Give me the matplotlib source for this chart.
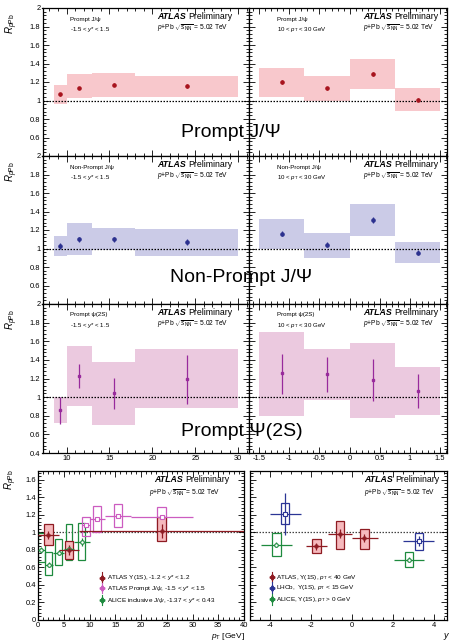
import matplotlib
matplotlib.use('Agg')
import matplotlib.pyplot as plt
from matplotlib.patches import Rectangle
from matplotlib.ticker import MultipleLocator, FuncFormatter

plt.rcParams['font.family'] = ['Liberation Sans', 'DejaVu Sans']
plt.rcParams['mathtext.fontset'] = 'custom'
plt.rcParams['mathtext.rm'] = 'Liberation Sans'
plt.rcParams['mathtext.it'] = 'Liberation Sans:italic'
plt.rcParams['mathtext.bf'] = 'Liberation Sans:bold'

# ---------------- data ----------------
pt_lo = [8.5, 10, 13, 18]
pt_hi = [10, 13, 18, 30]
pt_c = [9.25, 11.5, 15.5, 24.0]
y_lo = [-1.5, -0.75, 0.0, 0.75]
y_hi = [-0.75, 0.0, 0.75, 1.5]
y_c = [-1.12, -0.38, 0.39, 1.14]

# Prompt J/psi
pj_pt_val = [1.065, 1.135, 1.17, 1.16]
pj_pt_err = [0.015, 0.015, 0.015, 0.02]
pj_pt_slo = [0.96, 1.03, 1.035, 1.04]
pj_pt_shi = [1.17, 1.29, 1.30, 1.27]
pj_y_val = [1.20, 1.13, 1.29, 1.01]
pj_y_err = [0.02, 0.02, 0.02, 0.015]
pj_y_slo = [1.035, 1.0, 1.12, 0.885]
pj_y_shi = [1.35, 1.27, 1.45, 1.13]

# Non-prompt J/psi
np_pt_val = [1.03, 1.10, 1.10, 1.07]
np_pt_err = [0.03, 0.025, 0.025, 0.03]
np_pt_slo = [0.915, 0.93, 0.985, 0.915]
np_pt_shi = [1.14, 1.28, 1.225, 1.21]
np_y_val = [1.16, 1.04, 1.31, 0.955]
np_y_err = [0.03, 0.025, 0.03, 0.025]
np_y_slo = [1.0, 0.90, 1.13, 0.84]
np_y_shi = [1.32, 1.17, 1.48, 1.075]

# Prompt psi(2S)
ps_pt_val = [0.86, 1.225, 1.04, 1.195]
ps_pt_elo = [0.71, 1.10, 0.87, 0.93]
ps_pt_ehi = [1.00, 1.36, 1.21, 1.45]
ps_pt_slo = [0.72, 0.905, 0.705, 0.88]
ps_pt_shi = [1.00, 1.545, 1.38, 1.52]
ps_y_val = [1.255, 1.245, 1.18, 1.065]
ps_y_elo = [1.03, 1.05, 0.955, 0.88]
ps_y_ehi = [1.46, 1.43, 1.41, 1.25]
ps_y_slo = [0.80, 0.97, 0.78, 0.81]
ps_y_shi = [1.70, 1.52, 1.58, 1.32]

# bottom-left comparison vs pT
ups_pt = [2.0, 6.0, 24.0]
ups_pt_lo = [0, 4, 8]
ups_pt_hi = [4, 8, 40]
ups_pt_val = [0.97, 0.80, 1.02]
ups_pt_err = [0.05, 0.06, 0.08]
ups_pt_slo = [0.86, 0.70, 0.90]
ups_pt_shi = [1.09, 0.90, 1.17]

jp_pt = [9.25, 11.5, 15.5, 24.0]
jp_pt_lo = [8.5, 10, 13, 18]
jp_pt_hi = [10, 13, 18, 30]
jp_pt_val = [1.08, 1.15, 1.185, 1.175]
jp_pt_err = [0.02, 0.02, 0.02, 0.02]
jp_pt_slo = [0.955, 1.0, 1.06, 1.04]
jp_pt_shi = [1.18, 1.30, 1.32, 1.29]

al_pt = [0.65, 2.1, 4.0, 6.0, 8.5]
al_pt_lo = [0, 1.3, 3, 5, 7]
al_pt_hi = [1.3, 3, 5, 7, 10]
al_pt_val = [0.80, 0.63, 0.77, 0.81, 0.89]
al_pt_err = [0.03, 0.03, 0.03, 0.03, 0.04]
al_pt_slo = [0.66, 0.51, 0.63, 0.69, 0.68]
al_pt_shi = [0.99, 0.78, 0.92, 1.10, 1.11]

# bottom-right comparison vs y
at_y = [-1.75, -0.6, 0.6]
at_y_lo = [-2.25, -1.2, 0.0]
at_y_hi = [-1.25, 0.0, 1.25]
at_y_val = [0.84, 0.985, 0.935]
at_y_err = [0.04, 0.05, 0.05]
at_y_slo = [0.76, 0.81, 0.81]
at_y_shi = [0.92, 1.135, 1.04]

lh_y = [-3.28, 3.27]
lh_y_lo = [-4.0, 2.5]
lh_y_hi = [-2.5, 4.0]
lh_y_val = [1.21, 0.90]
lh_y_err = [0.235, 0.06]
lh_y_slo = [1.09, 0.80]
lh_y_shi = [1.33, 0.99]

alu_y = [-3.71, 2.78]
alu_y_lo = [-4.46, 2.03]
alu_y_hi = [-2.96, 3.53]
alu_y_val = [0.86, 0.69]
alu_y_err = [0.03, 0.03]
alu_y_slo = [0.73, 0.61]
alu_y_shi = [0.99, 0.78]

# ---------------- figure ----------------
W, H = 453, 644
fig = plt.figure(figsize=(W / 100, H / 100), dpi=100)


def add_ax(x0, y0, x1, y1):
    return fig.add_axes([x0 / W, 1 - y1 / H, (x1 - x0) / W, (y1 - y0) / H])


def fmt(v, pos):
    s = '%g' % round(v, 6)
    return s


def style(ax, xmaj, xmin, ymaj, ymin, maj_len=4.0):
    ax.xaxis.set_major_locator(MultipleLocator(xmaj))
    ax.xaxis.set_minor_locator(MultipleLocator(xmin))
    ax.yaxis.set_major_locator(MultipleLocator(ymaj))
    ax.yaxis.set_minor_locator(MultipleLocator(ymin))
    ax.tick_params(which='both', direction='in', top=True, right=True,
                   labelsize=5.4, width=0.6, pad=1.5, colors='black')
    ax.tick_params(which='major', length=maj_len)
    ax.tick_params(which='minor', length=maj_len / 2)
    ax.xaxis.set_major_formatter(FuncFormatter(fmt))
    ax.yaxis.set_major_formatter(FuncFormatter(fmt))
    for s in ax.spines.values():
        s.set_linewidth(0.9)


def atlas(x, y, size=6.3):
    t1 = fig.text(x / W, 1 - y / H, 'ATLAS', fontsize=size, fontweight='bold',
                  style='italic', va='center', ha='left')
    r = fig.canvas.get_renderer()
    bb = t1.get_window_extent(r)
    fig.text((bb.x1 + 2.5) / W, 1 - y / H, 'Preliminary', fontsize=size,
             va='center', ha='left')


def ppb(x, y, size=4.8):
    fig.text(x / W, 1 - y / H, r'$p$+Pb $\sqrt{s_{\mathrm{NN}}}$ = 5.02 TeV',
             fontsize=size, va='center', ha='left')


def small(x, y, s, size=4.4):
    fig.text(x / W, 1 - y / H, s, fontsize=size, va='center', ha='left')


def rlabel(x, y):
    fig.text(x / W, 1 - y / H, r'$R_{p\mathrm{Pb}}$', rotation=90,
             fontsize=7, ha='center', va='center')


rows = [
    dict(top=8, bot=156, fill='#f8c8cc', col='#a8141e', name='Prompt J/\u03a8',
         small='Prompt J/\u03c8', cx=231, cy=132,
         pt=(pj_pt_val, pj_pt_err, pj_pt_slo, pj_pt_shi),
         yy=(pj_y_val, pj_y_err, pj_y_slo, pj_y_shi), mk='o'),
    dict(top=156, bot=304, fill='#cbcbe7', col='#2c318f', name='Non-Prompt J/\u03a8',
         small='Non-Prompt J/\u03c8', cx=241, cy=278,
         pt=(np_pt_val, np_pt_err, np_pt_slo, np_pt_shi),
         yy=(np_y_val, np_y_err, np_y_slo, np_y_shi), mk='o'),
    dict(top=304, bot=453, fill='#ebc9df', col='#982a9c', name='Prompt \u03a8(2S)',
         small='Prompt \u03c8(2S)', cx=242, cy=432,
         pt=None, yy=None, mk='s'),
]

LX0, LX1, RX1 = 42.5, 248.5, 447

for ri, row in enumerate(rows):
    axl = add_ax(LX0, row['top'], LX1, row['bot'])
    axr = add_ax(LX1, row['top'], RX1, row['bot'])
    for ax in (axl, axr):
        ax.set_ylim(0.4, 2.0)
        ax.axhline(1.0, color='black', ls=(0, (1.2, 1.2)), lw=0.9, zorder=2)
    axl.set_xlim(7.2, 31.2)
    axr.set_xlim(-1.68, 1.62)
    style(axl, 5, 1, 0.2, 0.04, maj_len=4.5)
    style(axr, 0.5, 0.1, 0.2, 0.04, maj_len=4.5)
    axr.tick_params(labelleft=False)
    if ri < 2:
        axl.tick_params(labelbottom=False)
        axr.tick_params(labelbottom=False)
        axl.yaxis.set_major_formatter(FuncFormatter(
            lambda v, p: '' if abs(v - 0.4) < 1e-6 else fmt(v, p)))

    if ri < 2:
        for ax, (val, err, slo, shi), lo, hi, c in (
                (axl, row['pt'], pt_lo, pt_hi, pt_c),
                (axr, row['yy'], y_lo, y_hi, y_c)):
            for i in range(len(val)):
                ax.add_patch(Rectangle((lo[i], slo[i]), hi[i] - lo[i], shi[i] - slo[i],
                                       facecolor=row['fill'], edgecolor='none', zorder=1))
            ax.errorbar(c, val, yerr=err, fmt='o', ms=2.3, color=row['col'],
                        elinewidth=0.9, capsize=0, zorder=3)
    else:
        for ax, val, elo, ehi, slo, shi, lo, hi, c in (
                (axl, ps_pt_val, ps_pt_elo, ps_pt_ehi, ps_pt_slo, ps_pt_shi, pt_lo, pt_hi, pt_c),
                (axr, ps_y_val, ps_y_elo, ps_y_ehi, ps_y_slo, ps_y_shi, y_lo, y_hi, y_c)):
            for i in range(len(val)):
                ax.add_patch(Rectangle((lo[i], slo[i]), hi[i] - lo[i], shi[i] - slo[i],
                                       facecolor=row['fill'], edgecolor='none', zorder=1))
            yerr = [[v - l for v, l in zip(val, elo)], [h - v for v, h in zip(val, ehi)]]
            ax.errorbar(c, val, yerr=yerr, fmt='s', ms=2.0, color=row['col'],
                        elinewidth=0.9, capsize=0, zorder=3)

    t = row['top']
    atlas(157, t + 8.5)
    ppb(157, t + 20.5)
    small(70, t + 11, row['small'])
    small(70, t + 21, r'-1.5 < $y$* < 1.5')
    atlas(363, t + 8.5)
    ppb(363, t + 20.5)
    small(277, t + 11, row['small'])
    small(277, t + 21, r'10 < $p_{\mathrm{T}}$ < 30 GeV')
    fig.text(row['cx'] / W, 1 - row['cy'] / H, row['name'], fontsize=14,
             ha='center', va='center')
    rlabel(12, t + 16)

# ---------------- bottom row ----------------
RED, REDF = '#8e1b22', '#f6b9bd'
PINK = '#cc5cc0'
GREEN = '#1e8a3e'
BLUE = '#2b3595'

axb = add_ax(38, 471, 244, 620)
axc = add_ax(250, 471, 447, 620)
for ax in (axb, axc):
    ax.set_ylim(0, 1.7)
    ax.axhline(1.0, color='#444444', ls=(0, (1.2, 1.2)), lw=0.9, zorder=1)
axb.set_xlim(0, 40)
axc.set_xlim(-5.0, 4.65)
style(axb, 5, 1, 0.2, 0.04, maj_len=4.5)
style(axc, 2, 0.5, 0.2, 0.04, maj_len=4.5)
axc.tick_params(labelleft=False)


def series(ax, c, lo, hi, val, err, slo, shi, color, bw, mk, mfc, boxfill):
    for i in range(len(c)):
        ax.add_patch(Rectangle((c[i] - bw / 2, slo[i]), bw, shi[i] - slo[i],
                               facecolor=boxfill, edgecolor=color, lw=0.9, zorder=2,
                               fill=boxfill != 'none'))
    xerr = [[ci - l for ci, l in zip(c, lo)], [h - ci for ci, h in zip(c, hi)]]
    ax.errorbar(c, val, xerr=xerr, yerr=err, fmt=mk, ms=2.6, color=color,
                mfc=mfc, mec=color, mew=0.8, elinewidth=0.9, capsize=0, zorder=3)


series(axb, al_pt, al_pt_lo, al_pt_hi, al_pt_val, al_pt_err, al_pt_slo, al_pt_shi,
       GREEN, 1.3, 'o', 'white', 'none')
series(axb, jp_pt, jp_pt_lo, jp_pt_hi, jp_pt_val, jp_pt_err, jp_pt_slo, jp_pt_shi,
       PINK, 1.6, 's', 'white', 'none')
series(axb, ups_pt, ups_pt_lo, ups_pt_hi, ups_pt_val, ups_pt_err, ups_pt_slo, ups_pt_shi,
       RED, 1.7, 'P', RED, REDF)

series(axc, alu_y, alu_y_lo, alu_y_hi, alu_y_val, alu_y_err, alu_y_slo, alu_y_shi,
       GREEN, 0.42, 'o', 'white', 'none')
series(axc, lh_y, lh_y_lo, lh_y_hi, lh_y_val, lh_y_err, lh_y_slo, lh_y_shi,
       BLUE, 0.42, 's', 'white', 'none')
series(axc, at_y, at_y_lo, at_y_hi, at_y_val, at_y_err, at_y_slo, at_y_shi,
       RED, 0.42, 'P', RED, REDF)


def legend(ax, xm, xt, ys, labels, colors):
    for yv, lab, col in zip(ys, labels, colors):
        ax.plot([xm], [yv], marker='P', ms=3.2, color=col, transform=ax.transAxes,
                clip_on=False, zorder=5)
        ax.plot([xm, xm], [yv - 0.035, yv + 0.035], color=col, lw=0.8,
                transform=ax.transAxes, clip_on=False)
        ax.text(xt, yv, lab, fontsize=4.6, va='center', ha='left', transform=ax.transAxes)


legend(axb, 0.31, 0.335, [0.284, 0.213, 0.134],
       [r'ATLAS $\Upsilon$(1S), -1.2 < $y$* < 1.2',
        r'ATLAS Prompt J/$\psi$, -1.5 < $y$* < 1.5',
        r'ALICE inclusive J/$\psi$, -1.37 < $y$* < 0.43'],
       [RED, PINK, GREEN])
legend(axc, 0.11, 0.13, [0.287, 0.217, 0.139],
       [r'ATLAS, $\Upsilon$(1S), $p_{\mathrm{T}}$ < 40 GeV',
        r'LHCb,  $\Upsilon$(1S), $p_{\mathrm{T}}$ < 15 GeV',
        r'ALICE, $\Upsilon$(1S), $p_{\mathrm{T}}$ > 0 GeV'],
       [RED, BLUE, GREEN])

atlas(154, 479)
ppb(149, 493)
atlas(364, 479)
ppb(364, 493)
rlabel(11, 480)
fig.text(245 / W, 1 - 642.5 / H, r'$p_{\mathrm{T}}$ [GeV]', fontsize=6.0, ha='right', va='bottom')
fig.text(450 / W, 1 - 642.5 / H, r'$y$', fontsize=6.5, ha='right', va='bottom')

fig.savefig('out.png', dpi=100)
